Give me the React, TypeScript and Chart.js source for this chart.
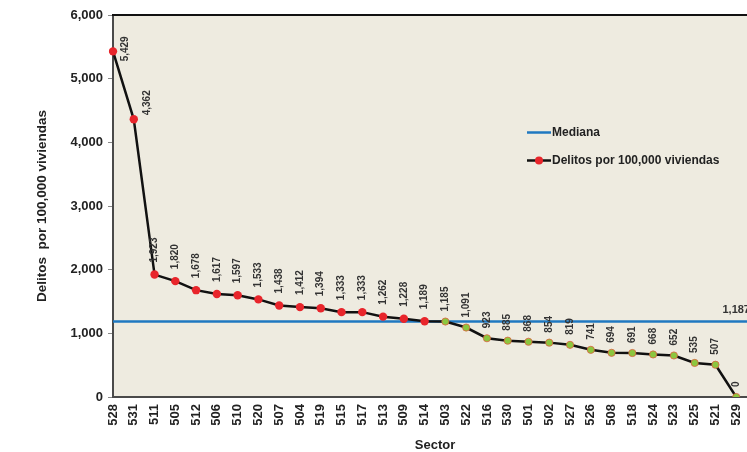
import React, { useEffect, useRef } from "react";
import { Chart, registerables } from "chart.js";

Chart.register(...registerables);

const sectors = [
  "528", "531", "511", "505", "512", "506", "510", "520", "507", "504", "519",
  "515", "517", "513", "509", "514", "503", "522", "516", "530", "501", "502",
  "527", "526", "508", "518", "524", "523", "525", "521", "529",
];
const delitos = [
  5429, 4362, 1923, 1820, 1678, 1617, 1597, 1533, 1438, 1412, 1394,
  1333, 1333, 1262, 1228, 1189, 1185, 1091, 923, 885, 868, 854,
  819, 741, 694, 691, 668, 652, 535, 507, 0,
];
const MEDIANA = 1187;
const yTicks = [0, 1000, 2000, 3000, 4000, 5000, 6000];

const RED = "#E8252B";
const GREEN = "#8CC63F";
const GREEN_BORDER = "#DC5F3E";
const BLUE = "#1F78C1";
const BG = "#EEEBE0";
const FONT = "'Liberation Sans', Arial, sans-serif";

const fmt = (v: number) => v.toLocaleString("en-US");

export default function App() {
  const ref = useRef<HTMLCanvasElement | null>(null);

  useEffect(() => {
    if (!ref.current) return;
    const labels = [...sectors, ""];
    const serie = [...delitos, null];
    const mediana = labels.map(() => MEDIANA);
    const above = delitos.map((v) => v > MEDIANA);

    const bgPlugin = {
      id: "bg",
      beforeDraw(chart: any) {
        const { ctx, chartArea: a } = chart;
        ctx.save();
        ctx.fillStyle = BG;
        ctx.fillRect(a.left, a.top, a.right - a.left, a.bottom - a.top);
        ctx.restore();
      },
      afterDraw(chart: any) {
        const { ctx, chartArea: a } = chart;
        ctx.save();
        ctx.strokeStyle = "#111";
        ctx.lineWidth = 2;
        ctx.beginPath();
        ctx.moveTo(a.left - 1, a.top);
        ctx.lineTo(a.right, a.top);
        ctx.stroke();
        ctx.restore();
      },
    };

    const labelPlugin = {
      id: "labels",
      afterDatasetsDraw(chart: any) {
        const { ctx } = chart;
        const meta = chart.getDatasetMeta(0);
        ctx.save();
        ctx.fillStyle = "#333";
        ctx.font = `bold 10px ${FONT}`;
        ctx.textAlign = "left";
        ctx.textBaseline = "middle";
        delitos.forEach((v, i) => {
          const p = meta.data[i];
          let dx = 0;
          let dy = above[i] ? -12 : -10;
          if (i === 0) {
            dx = 12;
            dy = 10;
          } else if (i === 1) {
            dx = 13;
            dy = -4;
          }
          ctx.save();
          ctx.translate(p.x + dx, p.y + dy);
          ctx.rotate(-Math.PI / 2);
          ctx.fillText(fmt(v), 0, 0);
          ctx.restore();
        });
        // median label
        const mm = chart.getDatasetMeta(1);
        const last = mm.data[sectors.length - 1];
        ctx.font = `bold 11px ${FONT}`;
        ctx.textAlign = "center";
        ctx.textBaseline = "alphabetic";
        ctx.fillText(fmt(MEDIANA), last.x, last.y - 8);

        // legend
        ctx.font = `bold 12px ${FONT}`;
        ctx.textAlign = "left";
        ctx.textBaseline = "middle";
        ctx.fillStyle = "#222";
        ctx.strokeStyle = BLUE;
        ctx.lineWidth = 2.5;
        ctx.beginPath();
        ctx.moveTo(527, 132.5);
        ctx.lineTo(551, 132.5);
        ctx.stroke();
        ctx.fillText("Mediana", 552, 133);
        ctx.strokeStyle = "#111";
        ctx.beginPath();
        ctx.moveTo(527, 160.5);
        ctx.lineTo(551, 160.5);
        ctx.stroke();
        ctx.fillStyle = RED;
        ctx.beginPath();
        ctx.arc(539, 160.5, 4, 0, Math.PI * 2);
        ctx.fill();
        ctx.fillStyle = "#222";
        ctx.fillText("Delitos por 100,000 viviendas", 552, 161);
        ctx.restore();
      },
    };

    const chart = new Chart(ref.current, {
      type: "line",
      data: {
        labels,
        datasets: [
          {
            label: "Delitos por 100,000 viviendas",
            data: serie,
            borderColor: "#111",
            borderWidth: 2.5,
            tension: 0,
            pointRadius: delitos.map((v, i) => (above[i] ? 4.2 : 3.6)),
            pointBorderWidth: delitos.map((v, i) => (above[i] ? 0 : 0.8)),
            pointBackgroundColor: delitos.map((v, i) => (above[i] ? RED : GREEN)),
            pointBorderColor: delitos.map((v, i) => (above[i] ? RED : GREEN_BORDER)),
            spanGaps: false,
          },
          {
            label: "Mediana",
            data: mediana,
            borderColor: BLUE,
            borderWidth: 2.5,
            pointRadius: 0,
            tension: 0,
          },
        ],
      },
      options: {
        animation: false,
        responsive: false,
        layout: { padding: { left: 0, right: 43, top: 15, bottom: 0 } },
        plugins: {
          legend: { display: false },
          tooltip: { enabled: false },
        },
        scales: {
          x: {
            type: "category",
            offset: false,
            grid: { display: false, drawTicks: false },
            border: { display: true, color: "#4a4a4a", width: 2 },
            ticks: {
              autoSkip: false,
              minRotation: 90,
              maxRotation: 90,
              padding: 7,
              color: "#222",
              font: { family: FONT, size: 13, weight: "bold" },
            },
            title: {
              display: true,
              text: "Sector",
              color: "#222",
              padding: 0,
              font: { family: FONT, size: 13, weight: "bold", lineHeight: 1 },
            },
            afterFit: (s: any) => {
              s.height = 55;
            },
          },
          y: {
            min: 0,
            max: 6000,
            afterBuildTicks: (s: any) => {
              s.ticks = yTicks.map((v) => ({ value: v }));
            },
            ticks: {
              padding: 5,
              color: "#222",
              font: { family: FONT, size: 13, weight: "bold" },
              callback: (v: any) => fmt(Number(v)),
            },
            grid: { drawOnChartArea: false, drawTicks: true, tickLength: 5, color: "#888" },
            border: { display: true, color: "#4a4a4a", width: 2 },
            title: {
              display: true,
              text: "Delitos  por 100,000 viviendas",
              color: "#222",
              padding: { top: 36, bottom: 0 },
              font: { family: FONT, size: 13.5, weight: "bold", lineHeight: 1 },
            },
            afterFit: (s: any) => {
              s.width = 113;
            },
          },
        },
      },
      plugins: [bgPlugin, labelPlugin],
    } as any);

    return () => chart.destroy();
  }, []);

  return (
    <div
      style={{
        position: "absolute",
        left: 0,
        top: 0,
        width: 747,
        height: 452,
        overflow: "hidden",
        background: "#fff",
      }}
    >
      <canvas ref={ref} width={800} height={452} style={{ display: "block" }} />
    </div>
  );
}
